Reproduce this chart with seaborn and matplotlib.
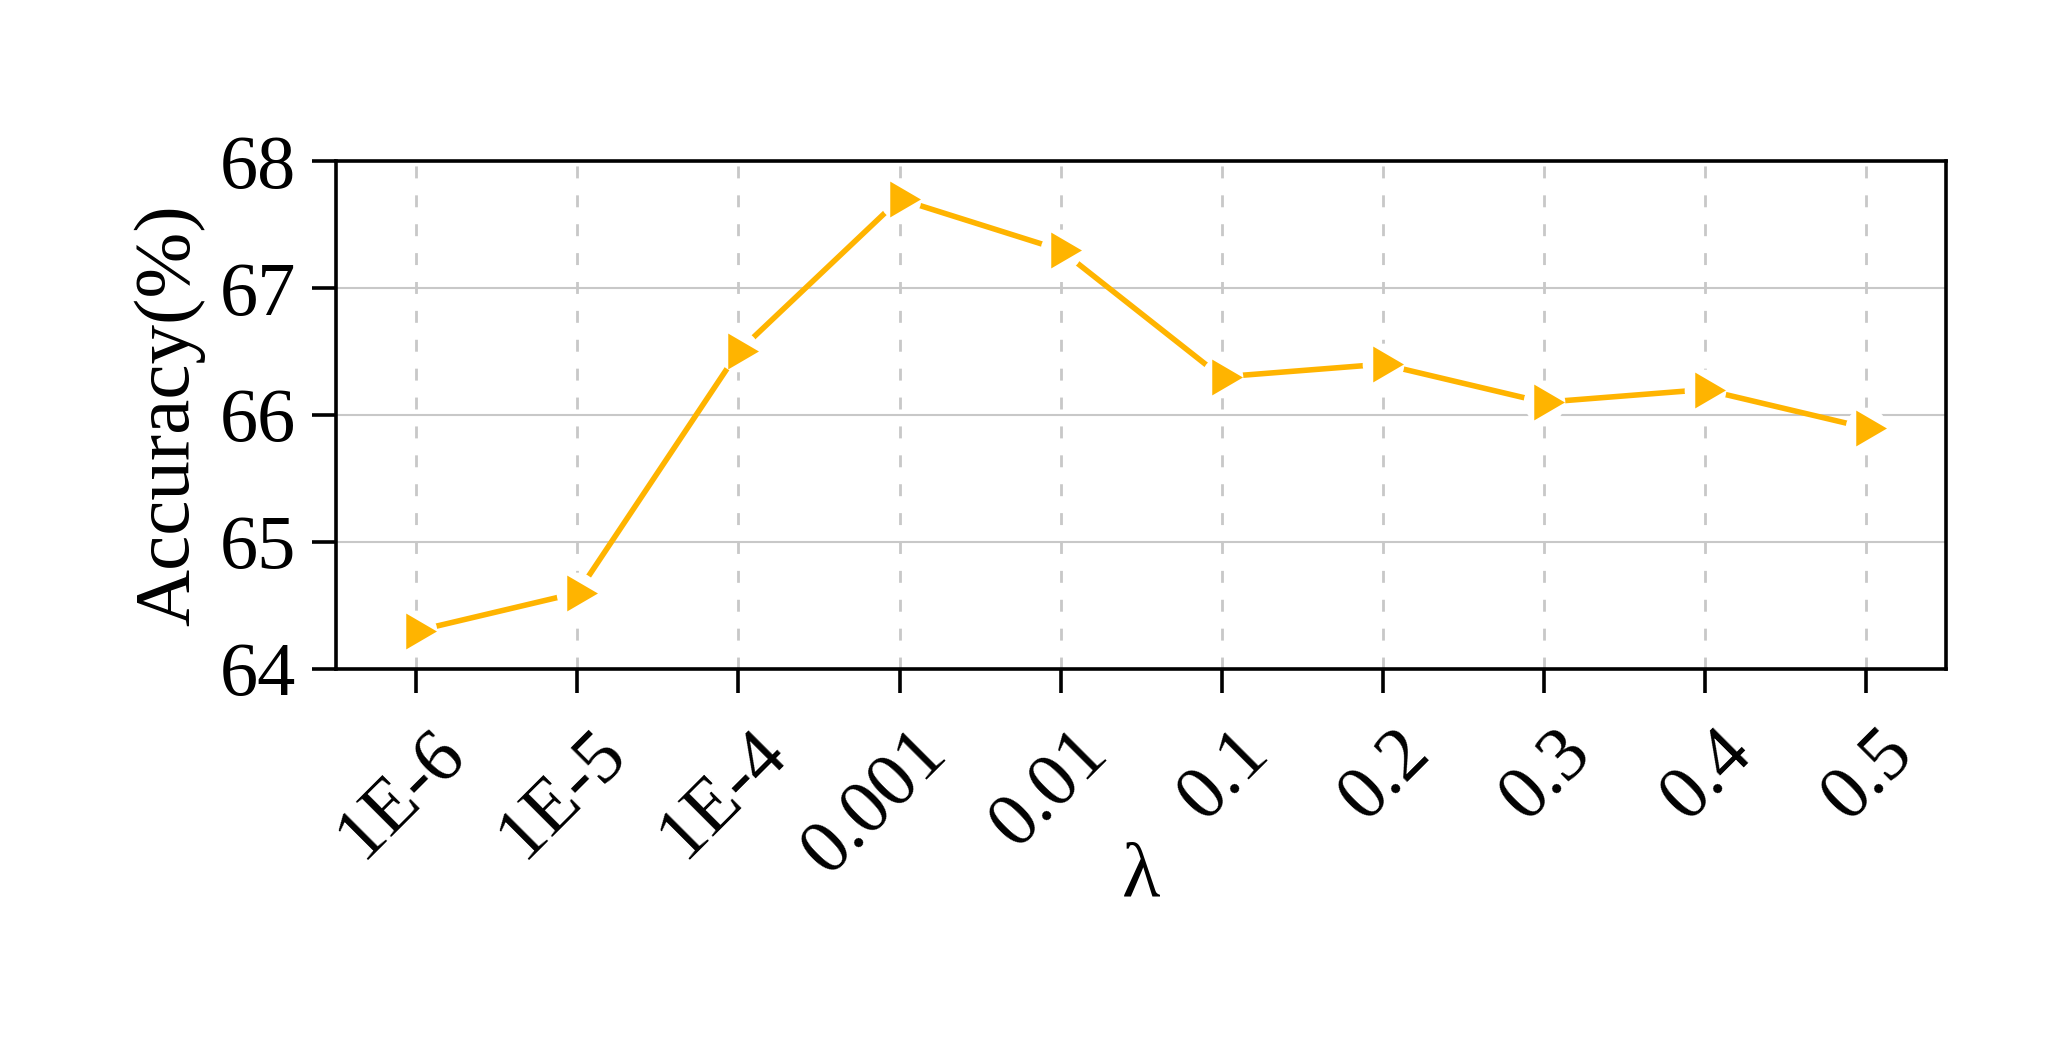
import matplotlib
matplotlib.use("Agg")
import matplotlib.pyplot as plt
import matplotlib.transforms as mtransforms
import seaborn as sns
import pandas as pd
from matplotlib.markers import MarkerStyle

# ---- data ----
lambdas = ["1E-6", "1E-5", "1E-4", "0.001", "0.01", "0.1", "0.2", "0.3", "0.4", "0.5"]
accuracy = [64.3, 64.6, 66.5, 67.7, 67.3, 66.3, 66.4, 66.1, 66.2, 65.9]
y_ticks = [64, 65, 66, 67, 68]

sns.set_style("ticks")
plt.rcParams["font.family"] = ["Liberation Serif", "DejaVu Serif"]
plt.rcParams["text.color"] = "black"
plt.rcParams["axes.labelcolor"] = "black"
plt.rcParams["xtick.color"] = "black"
plt.rcParams["ytick.color"] = "black"

df = pd.DataFrame({"lam": lambdas, "acc": accuracy})
df["pos"] = range(len(lambdas))

ORANGE = "#FFB400"
GRID = "#c8c8c8"

fig = plt.figure(figsize=(20.65, 10.51), dpi=100)
ax = fig.add_axes([0.1627, 0.3635, 0.7797, 0.4833])

# connecting line
sns.lineplot(data=df, x="pos", y="acc", ax=ax, color=ORANGE, linewidth=4.0,
             solid_capstyle="round", zorder=2, sort=False)
# white gaps around points
sns.scatterplot(data=df, x="pos", y="acc", ax=ax, color="white", marker="o",
                s=30 ** 2, linewidth=0, zorder=2.5)
# right-pointing triangle centred on its centroid
tri = MarkerStyle([(-10, -17.5), (20, 0), (-10, 17.5)])
sns.scatterplot(data=df, x="pos", y="acc", ax=ax, color=ORANGE, marker=tri,
                s=29.5 ** 2, linewidth=0, zorder=3)

ax.set_xlim(-0.5, len(lambdas) - 0.5)
ax.set_ylim(64, 68)
ax.set_yticks(y_ticks)
ax.set_yticklabels([str(v) for v in y_ticks])
ax.set_xticks(df["pos"])
ax.set_xticklabels(lambdas, rotation=45, ha="right")

ax.set_axisbelow(True)
ax.yaxis.grid(True, color=GRID, lw=1.5, ls="-")
ax.xaxis.grid(True, color=GRID, lw=2.0, ls=(0, (4.3, 6.1)))

for sp in ax.spines.values():
    sp.set_visible(True)
    sp.set_linewidth(2.6)
    sp.set_color("black")

ax.tick_params(axis="both", direction="out", length=17, width=2.6, color="black",
               labelsize=55, labelcolor="black")
ax.tick_params(axis="y", pad=12)
ax.tick_params(axis="x", pad=18)

shift = mtransforms.ScaledTranslation(0.61, 0, fig.dpi_scale_trans)
for lab in ax.get_xticklabels():
    lab.set_transform(lab.get_transform() + shift)

ax.set_ylabel("Accuracy(%)", fontsize=57, labelpad=10)
ax.set_xlabel("λ", fontsize=57)
ax.xaxis.set_label_coords(0.5, -0.34)

fig.savefig("out.png", dpi=100, facecolor="white")
